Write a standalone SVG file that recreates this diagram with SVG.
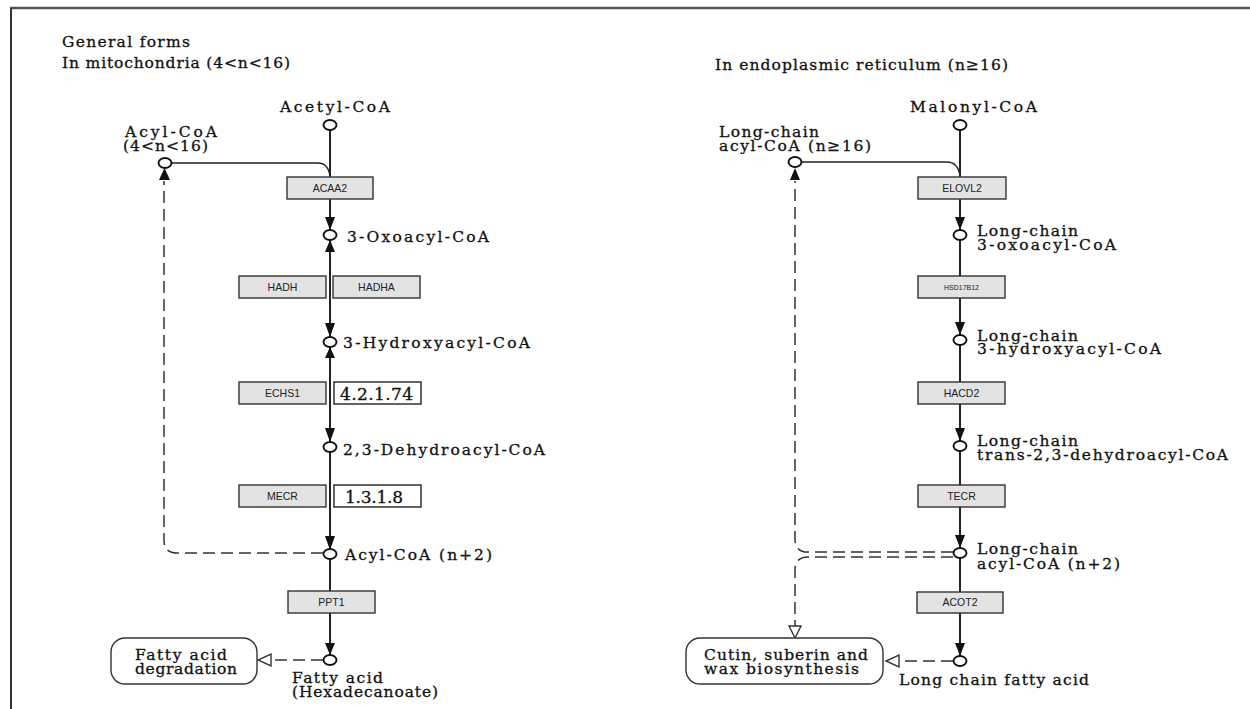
<svg xmlns="http://www.w3.org/2000/svg" width="1250" height="709" viewBox="0 0 1250 709">
<style>
.t{font-family:"DejaVu Serif","Liberation Serif",serif;font-size:15.5px;fill:#111;stroke:#111;stroke-width:0.3}
.ec{font-family:"DejaVu Serif","Liberation Serif",serif;font-size:17px;fill:#111;stroke:#111;stroke-width:0.3}
.g{font-family:"Liberation Sans",Arial,sans-serif;font-size:10.5px;fill:#222;text-anchor:middle}
.gs{font-family:"Liberation Sans",Arial,sans-serif;font-size:7px;fill:#222;text-anchor:middle}
.box{fill:#e3e3e3;stroke:#333;stroke-width:1.4}
.ecb{fill:#fff;stroke:#222;stroke-width:1.4}
.c{fill:#fff;stroke:#111;stroke-width:1.9}
.ln{fill:none;stroke:#222;stroke-width:2}
.thin{fill:none;stroke:#222;stroke-width:1.3}
.dash{fill:none;stroke:#333;stroke-width:1.5;stroke-dasharray:12 6}
.ah{fill:#111}
.oah{fill:#fff;stroke:#333;stroke-width:1.4}
.rb{fill:#fff;stroke:#333;stroke-width:1.4}
</style>
<g id="frame">
<line x1="10" y1="8" x2="1250" y2="8" stroke="#555" stroke-width="2.5"/>
<line x1="11" y1="8" x2="11" y2="709" stroke="#333" stroke-width="2"/>
</g>
<g id="titles">
<text class="t" x="62" y="47" textLength="128" lengthAdjust="spacing">General forms</text>
<text class="t" x="62" y="68" textLength="228" lengthAdjust="spacing">In mitochondria (4&lt;n&lt;16)</text>
<text class="t" x="715" y="70" textLength="293" lengthAdjust="spacing">In endoplasmic reticulum (n≥16)</text>
</g>
<g id="connectors">
<line class="ln" x1="330" y1="130" x2="330" y2="655"/>
<path class="thin" d="M171,163 H318 Q328,163 330,176"/>
<path class="dash" d="M323,553 H177 Q164,553 164,540 V181"/>
<path class="dash" d="M323,660 H271"/>
<polygon class="ah" points="325,217 335,217 330,230"/>
<polygon class="ah" points="325,252 335,252 330,240"/>
<polygon class="ah" points="325,323 335,323 330,337"/>
<polygon class="ah" points="325,358 335,358 330,347"/>
<polygon class="ah" points="325,428 335,428 330,442"/>
<polygon class="ah" points="325,536 335,536 330,550"/>
<polygon class="ah" points="325,643 335,643 330,655"/>
<polygon class="ah" points="159,180 170,180 164.5,168"/>
<polygon class="oah" points="271,654 271,666 258,660"/>
<line class="ln" x1="960" y1="130" x2="960" y2="656"/>
<path class="thin" d="M801,162 H947 Q958,162 960,176"/>
<path class="dash" d="M953,552 H808 Q795,552 795,539 V181"/>
<path class="dash" d="M953,557 H808 Q795,557 795,570 V626"/>
<path class="dash" d="M953,661 H900"/>
<polygon class="ah" points="955,217 965,217 960,230"/>
<polygon class="ah" points="955,322 965,322 960,335"/>
<polygon class="ah" points="955,428 965,428 960,441"/>
<polygon class="ah" points="955,535 965,535 960,548"/>
<polygon class="ah" points="955,643 965,643 960,656"/>
<polygon class="ah" points="790,180 800,180 795,168"/>
<polygon class="oah" points="789,626 801,626 795,638"/>
<polygon class="oah" points="899,655 899,667 886,661"/>
</g>
<g id="acetyl-coa">
<ellipse class="c" cx="330" cy="125" rx="6.5" ry="5"/>
<text class="t" x="280" y="112" textLength="110" lengthAdjust="spacing">Acetyl-CoA</text>
</g>
<g id="acyl-coa-short">
<ellipse class="c" cx="165" cy="163" rx="6.5" ry="5"/>
<text class="t" x="125" y="137" textLength="92" lengthAdjust="spacing">Acyl-CoA</text>
<text class="t" x="123" y="151" textLength="85" lengthAdjust="spacing">(4&lt;n&lt;16)</text>
</g>
<g id="ACAA2"><rect class="box" x="287" y="177" width="86" height="22"/><text class="g" x="330" y="192">ACAA2</text></g>
<g id="oxoacyl-coa">
<ellipse class="c" cx="330" cy="235" rx="6.5" ry="5"/>
<text class="t" x="347" y="242" textLength="142" lengthAdjust="spacing">3-Oxoacyl-CoA</text>
</g>
<g id="HADH"><rect class="box" x="239" y="276" width="87" height="22"/><text class="g" x="282.5" y="291">HADH</text></g>
<g id="HADHA"><rect class="box" x="333" y="276" width="87" height="22"/><text class="g" x="376.5" y="291">HADHA</text></g>
<g id="hydroxyacyl-coa">
<ellipse class="c" cx="330" cy="342" rx="6.5" ry="5"/>
<text class="t" x="343" y="348" textLength="187" lengthAdjust="spacing">3-Hydroxyacyl-CoA</text>
</g>
<g id="ECHS1"><rect class="box" x="239" y="382" width="87" height="22"/><text class="g" x="282.5" y="397">ECHS1</text></g>
<g id="ec-4.2.1.74"><rect class="ecb" x="334" y="382" width="87" height="22"/><text class="ec" x="340" y="400" textLength="73" lengthAdjust="spacing">4.2.1.74</text></g>
<g id="dehydroacyl-coa">
<ellipse class="c" cx="330" cy="447" rx="6.5" ry="5"/>
<text class="t" x="343" y="455" textLength="202" lengthAdjust="spacing">2,3-Dehydroacyl-CoA</text>
</g>
<g id="MECR"><rect class="box" x="239" y="485" width="87" height="22"/><text class="g" x="282.5" y="500">MECR</text></g>
<g id="ec-1.3.1.8"><rect class="ecb" x="334" y="485" width="87" height="22"/><text class="ec" x="345" y="503" textLength="58" lengthAdjust="spacing">1.3.1.8</text></g>
<g id="acyl-coa-n2">
<ellipse class="c" cx="330" cy="554" rx="6.5" ry="5"/>
<text class="t" x="345" y="560" textLength="147" lengthAdjust="spacing">Acyl-CoA (n+2)</text>
</g>
<g id="PPT1"><rect class="box" x="288" y="591" width="87" height="22"/><text class="g" x="331.5" y="606">PPT1</text></g>
<g id="fatty-acid">
<ellipse class="c" cx="330" cy="660" rx="6.5" ry="5"/>
<text class="t" x="292" y="683" textLength="91" lengthAdjust="spacing">Fatty acid</text>
<text class="t" x="292" y="697" textLength="146" lengthAdjust="spacing">(Hexadecanoate)</text>
</g>
<g id="fatty-acid-degradation">
<rect class="rb" x="111" y="638" width="146" height="46" rx="14"/>
<text class="t" x="135" y="660" textLength="92" lengthAdjust="spacing">Fatty acid</text>
<text class="t" x="135" y="674" textLength="102" lengthAdjust="spacing">degradation</text>
</g>
<g id="malonyl-coa">
<ellipse class="c" cx="960" cy="125" rx="6.5" ry="5"/>
<text class="t" x="910" y="112" textLength="127" lengthAdjust="spacing">Malonyl-CoA</text>
</g>
<g id="long-chain-acyl-coa-16">
<ellipse class="c" cx="795" cy="162" rx="6.5" ry="5"/>
<text class="t" x="719" y="137" textLength="100" lengthAdjust="spacing">Long-chain</text>
<text class="t" x="719" y="151" textLength="152" lengthAdjust="spacing">acyl-CoA (n≥16)</text>
</g>
<g id="ELOVL2"><rect class="box" x="918" y="177" width="88" height="22"/><text class="g" x="962" y="192">ELOVL2</text></g>
<g id="lc-oxoacyl-coa">
<ellipse class="c" cx="960" cy="235" rx="6.5" ry="5"/>
<text class="t" x="977" y="236" textLength="101" lengthAdjust="spacing">Long-chain</text>
<text class="t" x="977" y="250" textLength="139" lengthAdjust="spacing">3-oxoacyl-CoA</text>
</g>
<g id="HSD17B12"><rect class="box" x="918" y="276" width="87" height="22"/><text class="gs" x="961.5" y="290">HSD17B12</text></g>
<g id="lc-hydroxyacyl-coa">
<ellipse class="c" cx="960" cy="340" rx="6.5" ry="5"/>
<text class="t" x="977" y="341" textLength="101" lengthAdjust="spacing">Long-chain</text>
<text class="t" x="977" y="354" textLength="184" lengthAdjust="spacing">3-hydroxyacyl-CoA</text>
</g>
<g id="HACD2"><rect class="box" x="918" y="382" width="87" height="22"/><text class="g" x="961.5" y="397">HACD2</text></g>
<g id="lc-dehydroacyl-coa">
<ellipse class="c" cx="960" cy="446" rx="6.5" ry="5"/>
<text class="t" x="977" y="446" textLength="101" lengthAdjust="spacing">Long-chain</text>
<text class="t" x="977" y="460" textLength="251" lengthAdjust="spacing">trans-2,3-dehydroacyl-CoA</text>
</g>
<g id="TECR"><rect class="box" x="918" y="485" width="87" height="22"/><text class="g" x="961.5" y="500">TECR</text></g>
<g id="lc-acyl-coa-n2">
<ellipse class="c" cx="960" cy="553" rx="6.5" ry="5"/>
<text class="t" x="977" y="554" textLength="101" lengthAdjust="spacing">Long-chain</text>
<text class="t" x="977" y="569" textLength="143" lengthAdjust="spacing">acyl-CoA (n+2)</text>
</g>
<g id="ACOT2"><rect class="box" x="917" y="592" width="86" height="21"/><text class="g" x="960" y="606">ACOT2</text></g>
<g id="lc-fatty-acid">
<ellipse class="c" cx="960" cy="661" rx="6.5" ry="5"/>
<text class="t" x="899" y="685" textLength="190" lengthAdjust="spacing">Long chain fatty acid</text>
</g>
<g id="cutin-suberin-wax">
<rect class="rb" x="686" y="638" width="197" height="46" rx="14"/>
<text class="t" x="704" y="660" textLength="164" lengthAdjust="spacing">Cutin, suberin and</text>
<text class="t" x="704" y="674" textLength="155" lengthAdjust="spacing">wax biosynthesis</text>
</g>
</svg>
